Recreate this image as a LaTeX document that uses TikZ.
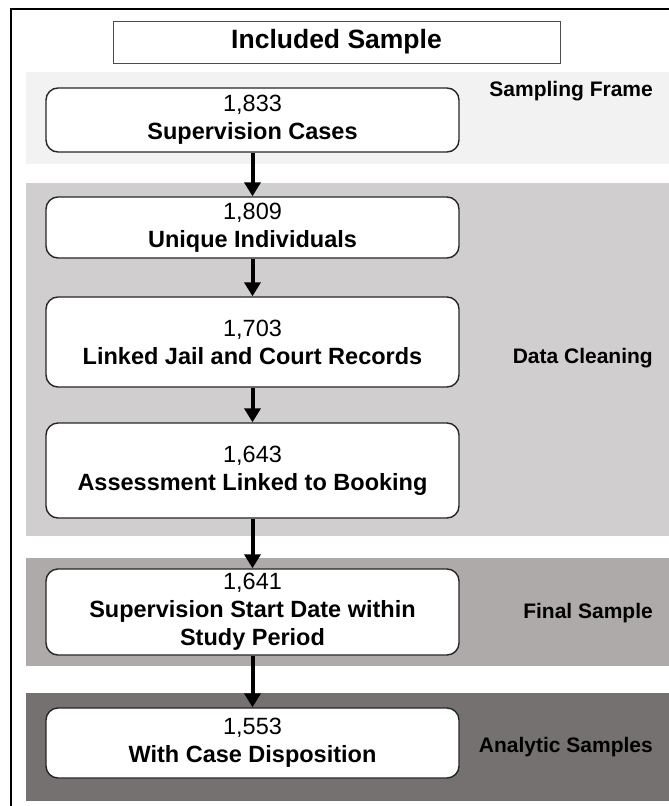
\documentclass[tikz,border=0pt]{standalone}
\usepackage{fontspec}
\setmainfont{Liberation Sans}
\usetikzlibrary{arrows.meta}
\definecolor{bandA}{HTML}{F2F2F2}
\definecolor{bandB}{HTML}{D0CECE}
\definecolor{bandC}{HTML}{AEAAAA}
\definecolor{bandD}{HTML}{767171}
\begin{document}
\begin{tikzpicture}[x=1pt,y=-1pt,
  box/.style={draw=black!85, line width=1.4pt, fill=white, rounded corners=12pt,
    align=center, inner sep=0pt, minimum width=413pt,
    font=\fontsize{23.5}{28}\selectfont},
  lab/.style={anchor=east, inner sep=0pt, font=\fontsize{21}{25}\selectfont\bfseries},
  arr/.style={line width=4pt, -{Triangle[width=16pt,length=14pt]}}]
\useasboundingbox (0,0) rectangle (669,806);
\clip (0,0) rectangle (669,806);
% outer frame
\draw[line width=2pt] (11,9) rectangle (720,860);
% bands
\fill[bandA] (26,72) rectangle (700,164);
\fill[bandB] (26,183) rectangle (700,536);
\fill[bandC] (26,558) rectangle (700,666);
\fill[bandD] (26,693) rectangle (700,801);
% title
\node[draw=black!70, line width=1pt, minimum width=447pt, minimum height=42pt,
  inner sep=0pt, font=\fontsize{26.5}{30}\selectfont\bfseries] (title) at (336.5,42) {Included Sample};
% boxes
\node[box, minimum height=64pt] (b1) at (252.5,120) {1,833\\\textbf{Supervision Cases}};
\node[box, minimum height=61pt] (b2) at (252.5,227.5) {1,809\\\textbf{Unique Individuals}};
\node[box, minimum height=90pt] (b3) at (252.5,342) {1,703\\\textbf{Linked Jail and Court Records}};
\node[box, minimum height=95pt] (b4) at (252.5,470.5) {1,643\\\textbf{Assessment Linked to Booking}};
\node[box, minimum height=86pt] (b5) at (252.5,612) {1,641\\\textbf{Supervision Start Date within}\\\textbf{Study Period}};
\node[box, minimum height=70pt] (b6) at (252.5,743) {1,553\\\textbf{With Case Disposition}};
% labels
\node[lab] (l1) at (653,91) {Sampling Frame};
\node[lab] (l2) at (653,358) {Data Cleaning};
\node[lab] (l3) at (653,613) {Final Sample};
\node[lab] (l4) at (653,747) {Analytic Samples};
% arrows
\draw[arr] (b1.south) -- (b2.north);
\draw[arr] (b2.south) -- (b3.north);
\draw[arr] (b3.south) -- (b4.north);
\draw[arr] (b4.south) -- (b5.north);
\draw[arr] (b5.south) -- (b6.north);
\end{tikzpicture}
\end{document}
